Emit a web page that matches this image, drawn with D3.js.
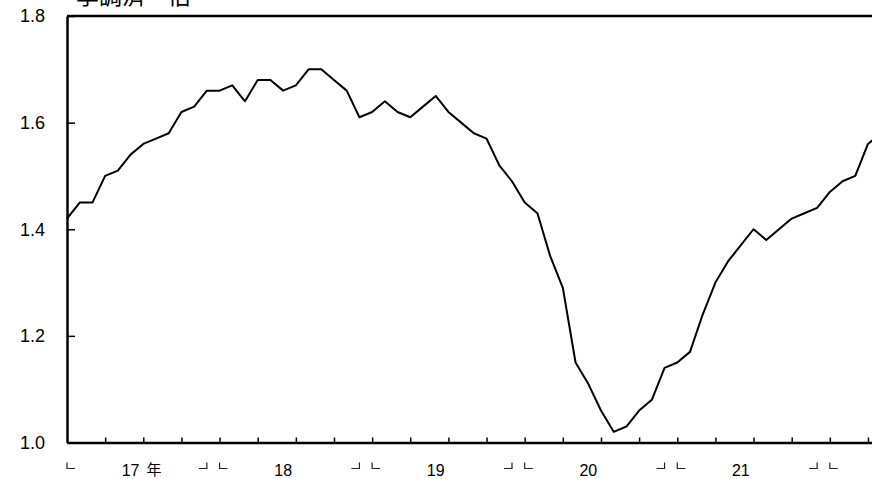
<!DOCTYPE html>
<html>
<head>
<meta charset="utf-8">
<script src="https://cdn.jsdelivr.net/npm/d3@7"></script>
<style>
  body { margin: 0; background: #fff; }
  svg { display: block; }
</style>
</head>
<body>
<div id="chart"></div>
<script>
// monthly values, seasonally adjusted (倍)
let v2017 = [1.42, 1.45, 1.45, 1.50, 1.51, 1.54, 1.56, 1.57, 1.58, 1.62, 1.63, 1.66];
let v2018 = [1.66, 1.67, 1.64, 1.68, 1.68, 1.66, 1.67, 1.70, 1.70, 1.68, 1.66, 1.61];
let v2019 = [1.62, 1.64, 1.62, 1.61, 1.63, 1.65, 1.62, 1.60, 1.58, 1.57, 1.52, 1.49];
let v2020 = [1.45, 1.43, 1.35, 1.29, 1.15, 1.11, 1.06, 1.02, 1.03, 1.06, 1.08, 1.14];
let v2021 = [1.15, 1.17, 1.24, 1.30, 1.34, 1.37, 1.40, 1.38, 1.40, 1.42, 1.43, 1.44];
let v2022 = [1.47, 1.49, 1.50, 1.56, 1.58];

let yearLabels = ["17", "18", "19", "20", "21"];
let yTicks = [1.0, 1.2, 1.4, 1.6, 1.8];
let unitLabel = "季調済　倍";

let W = 872, H = 479;
let plotLeft = 67, plotTop = 16, plotBottom = 442.5;
let monthW = 12.714;
let nMonths = 72; // 2017-2022, chart is cut off on the right
let plotRight = plotLeft + nMonths * monthW;

let values = [].concat(v2017, v2018, v2019, v2020, v2021, v2022);

let x = d3.scaleLinear().domain([0, nMonths]).range([plotLeft, plotRight]);
let y = d3.scaleLinear().domain([1.0, 1.8]).range([plotBottom, plotTop]);

let svg = d3.select("#chart")
  .append("svg")
  .attr("width", W)
  .attr("height", H);

// unit label (cut off at top, as in the source)
svg.append("text")
  .attr("x", 76)
  .attr("y", 4)
  .style("font-family", "'Noto Sans CJK JP', sans-serif")
  .style("font-size", "23px")
  .style("fill", "#000")
  .text(unitLabel);

// y axis, ticks point inward
let yAxis = svg.append("g")
  .attr("transform", "translate(" + plotLeft + ",0)")
  .call(d3.axisLeft(y).tickValues(yTicks).tickFormat(d3.format(".1f"))
    .tickSizeInner(-8).tickSizeOuter(0).tickPadding(22));
yAxis.select(".domain").attr("stroke", "#000").attr("stroke-width", 2.5);
yAxis.selectAll(".tick line").attr("stroke", "#000").attr("stroke-width", 1.5);
yAxis.selectAll(".tick text")
  .style("font-family", "'Liberation Sans', Arial, sans-serif")
  .style("font-size", "18px")
  .style("fill", "#000");

// x axis, quarterly ticks pointing up
let qTicks = d3.range(3, nMonths + 1, 3);
let xAxis = svg.append("g")
  .attr("transform", "translate(0," + plotBottom + ")")
  .call(d3.axisBottom(x).tickValues(qTicks).tickFormat("")
    .tickSizeInner(-5).tickSizeOuter(0));
xAxis.select(".domain").attr("stroke", "#000").attr("stroke-width", 2.5);
xAxis.selectAll(".tick line").attr("stroke", "#000").attr("stroke-width", 1.5);

// top border
svg.append("line")
  .attr("x1", plotLeft).attr("x2", plotRight)
  .attr("y1", y(1.8)).attr("y2", y(1.8))
  .attr("stroke", "#000")
  .attr("stroke-width", 2.5);

// year brackets under the axis
let years = d3.range(0, 6);
let bTop = 462.5, bBot = 468.5, bLen = 8;
svg.append("g")
  .selectAll("path")
  .data(years)
  .enter()
  .append("path")
  .attr("d", function(i) {
    let a = x(i * 12);
    let b = x(i * 12 + 11);
    return "M" + a + "," + bTop + "V" + bBot + "H" + (a + bLen) +
      "M" + (b - bLen) + "," + bBot + "H" + b + "V" + bTop;
  })
  .attr("fill", "none")
  .attr("stroke", "#222")
  .attr("stroke-width", 1.2);

// year labels, centred on June
let yl = svg.append("g")
  .style("font-family", "'Liberation Sans', Arial, sans-serif")
  .style("font-size", "16px")
  .style("fill", "#000");
yl.selectAll("text")
  .data(yearLabels)
  .enter()
  .append("text")
  .attr("x", (d, i) => x(i * 12 + 5))
  .attr("y", 476)
  .attr("text-anchor", "middle")
  .text(d => d);
yl.append("text")
  .attr("x", x(5) + 16)
  .attr("y", 474.5)
  .style("font-family", "'Noto Sans CJK JP', sans-serif")
  .style("font-size", "15px")
  .text("年");

// the series
let line = d3.line()
  .x((d, i) => x(i))
  .y(d => y(d));

svg.append("path")
  .datum(values)
  .attr("d", line)
  .attr("fill", "none")
  .attr("stroke", "#000")
  .attr("stroke-width", 2)
  .attr("stroke-linejoin", "round");
</script>
</body>
</html>
